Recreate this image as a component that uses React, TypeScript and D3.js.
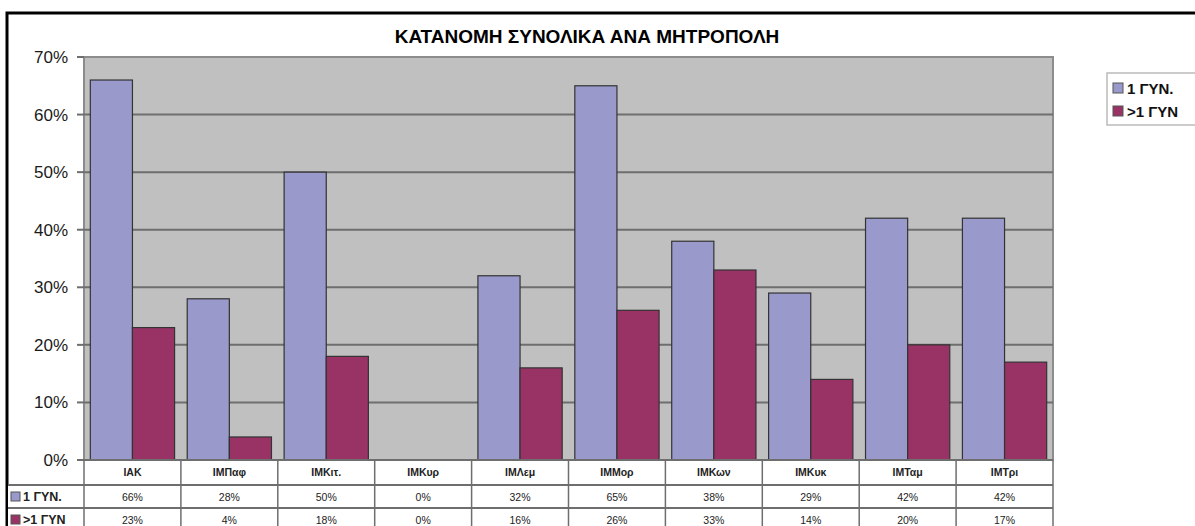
import React from 'react';
import * as d3 from 'd3';

const categories = ['ΙΑΚ', 'ΙΜΠαφ', 'ΙΜΚιτ.', 'ΙΜΚυρ', 'ΙΜΛεμ', 'ΙΜΜορ', 'ΙΜΚων', 'ΙΜΚυκ', 'ΙΜΤαμ', 'ΙΜΤρι'];
const seriesNames = ['1 ΓΥΝ.', '>1 ΓΥΝ'];
const oneBirth = [66, 28, 50, 0, 32, 65, 38, 29, 42, 42];
const moreBirths = [23, 4, 18, 0, 16, 26, 33, 14, 20, 17];
const yTicks = [0, 10, 20, 30, 40, 50, 60, 70];
const colors = ['#9999cc', '#993366'];
const title = 'ΚΑΤΑΝΟΜΗ ΣΥΝΟΛΙΚΑ ΑΝΑ ΜΗΤΡΟΠΟΛΗ';

const FONT = '"Liberation Sans", Arial, sans-serif';

const App: React.FC = () => {
  const W = 1195, H = 526;
  const plot = { left: 84, right: 1053, top: 57, bottom: 460 };
  const rowH = [25, 23, 23];
  const keyLeft = 8;

  const series = [oneBirth, moreBirths];

  const x = d3.scaleBand<string>().domain(categories).range([plot.left, plot.right]).padding(0);
  const xs = d3.scaleBand<string>().domain(seriesNames).range([0, x.bandwidth()]).paddingInner(0).paddingOuter(0.15);
  const y = d3.scaleLinear().domain([0, 70]).range([plot.bottom, plot.top]);

  const rowTop = [plot.bottom, plot.bottom + rowH[0], plot.bottom + rowH[0] + rowH[1]];

  return (
    <svg width={W} height={H} style={{ position: 'absolute', left: 0, top: 0, fontFamily: FONT }}>
      <rect x={0} y={0} width={W} height={H} fill="#fff" />
      {/* outer chart frame */}
      <rect x={7} y={13} width={1300} height={700} fill="none" stroke="#000" strokeWidth={3} />

      <text x={587} y={43} textAnchor="middle" fontSize={19} fontWeight="bold" fill="#000">{title}</text>

      {/* plot area */}
      <rect x={plot.left} y={plot.top} width={plot.right - plot.left} height={plot.bottom - plot.top}
        fill="#c0c0c0" stroke="#8c8c8c" strokeWidth={2} />
      {yTicks.filter(t => t > 0 && t < 70).map(t => (
        <line key={t} x1={plot.left} x2={plot.right} y1={y(t)} y2={y(t)} stroke="#6e6e6e" strokeWidth={2} />
      ))}
      {yTicks.map(t => (
        <g key={'t' + t}>
          <line x1={plot.left - 7} x2={plot.left} y1={y(t)} y2={y(t)} stroke="#6e6e6e" strokeWidth={2} />
          <text x={68} y={y(t) + 6} textAnchor="end" fontSize={17} fill="#1a1a1a">{t}%</text>
        </g>
      ))}

      {/* bars */}
      {categories.map((c, i) => (
        <g key={c}>
          {series.map((s, k) => {
            const v = s[i];
            if (v <= 0) return null;
            return (
              <rect key={k} x={(x(c) ?? 0) + (xs(seriesNames[k]) ?? 0)} y={y(v)}
                width={xs.bandwidth()} height={y(0) - y(v)}
                fill={colors[k]} stroke="#333" strokeWidth={1.2} />
            );
          })}
        </g>
      ))}

      {/* data table */}
      <rect x={plot.left} y={rowTop[0]} width={plot.right - plot.left} height={rowH[0]} fill="#fff" />
      <rect x={keyLeft} y={rowTop[1]} width={plot.right - keyLeft} height={rowH[1] + rowH[2] + 20} fill="#fff" />
      <line x1={plot.left} x2={plot.right} y1={rowTop[0]} y2={rowTop[0]} stroke="#6e6e6e" strokeWidth={2} />
      <line x1={keyLeft} x2={plot.right} y1={rowTop[1]} y2={rowTop[1]} stroke="#6e6e6e" strokeWidth={2} />
      <line x1={keyLeft} x2={plot.right} y1={rowTop[2]} y2={rowTop[2]} stroke="#6e6e6e" strokeWidth={2} />
      <line x1={plot.left} x2={plot.left} y1={rowTop[0]} y2={H} stroke="#6e6e6e" strokeWidth={1.5} />
      {categories.map(c => (
        <line key={'d' + c} x1={(x(c) ?? 0) + x.bandwidth()} x2={(x(c) ?? 0) + x.bandwidth()}
          y1={rowTop[0]} y2={H} stroke="#6e6e6e" strokeWidth={1.5} />
      ))}
      {categories.map(c => (
        <text key={'c' + c} x={(x(c) ?? 0) + x.bandwidth() / 2} y={rowTop[0] + 16} textAnchor="middle"
          fontSize={10.5} fontWeight="bold" fill="#222">{c}</text>
      ))}
      {series.map((s, k) => (
        <g key={'r' + k}>
          <rect x={keyLeft + 3} y={rowTop[k + 1] + 7} width={9} height={9} fill={colors[k]} stroke="#555" strokeWidth={1} />
          <text x={keyLeft + 15} y={rowTop[k + 1] + 16} fontSize={12.5} fontWeight="bold" fill="#222">{seriesNames[k]}</text>
          {categories.map((c, i) => (
            <text key={c} x={(x(c) ?? 0) + x.bandwidth() / 2} y={rowTop[k + 1] + 16} textAnchor="middle"
              fontSize={10.5} fill="#222">{s[i]}%</text>
          ))}
        </g>
      ))}

      {/* legend */}
      <rect x={1107} y={73} width={120} height={52} fill="#fff" stroke="#bbb" strokeWidth={1.5} />
      {seriesNames.map((n, k) => (
        <g key={'l' + n}>
          <rect x={1113} y={83 + k * 23} width={10} height={10} fill={colors[k]} stroke="#555" strokeWidth={1} />
          <text x={1127} y={94 + k * 23} fontSize={15} fontWeight="bold" fill="#111">{n}</text>
        </g>
      ))}
    </svg>
  );
};

export default App;
